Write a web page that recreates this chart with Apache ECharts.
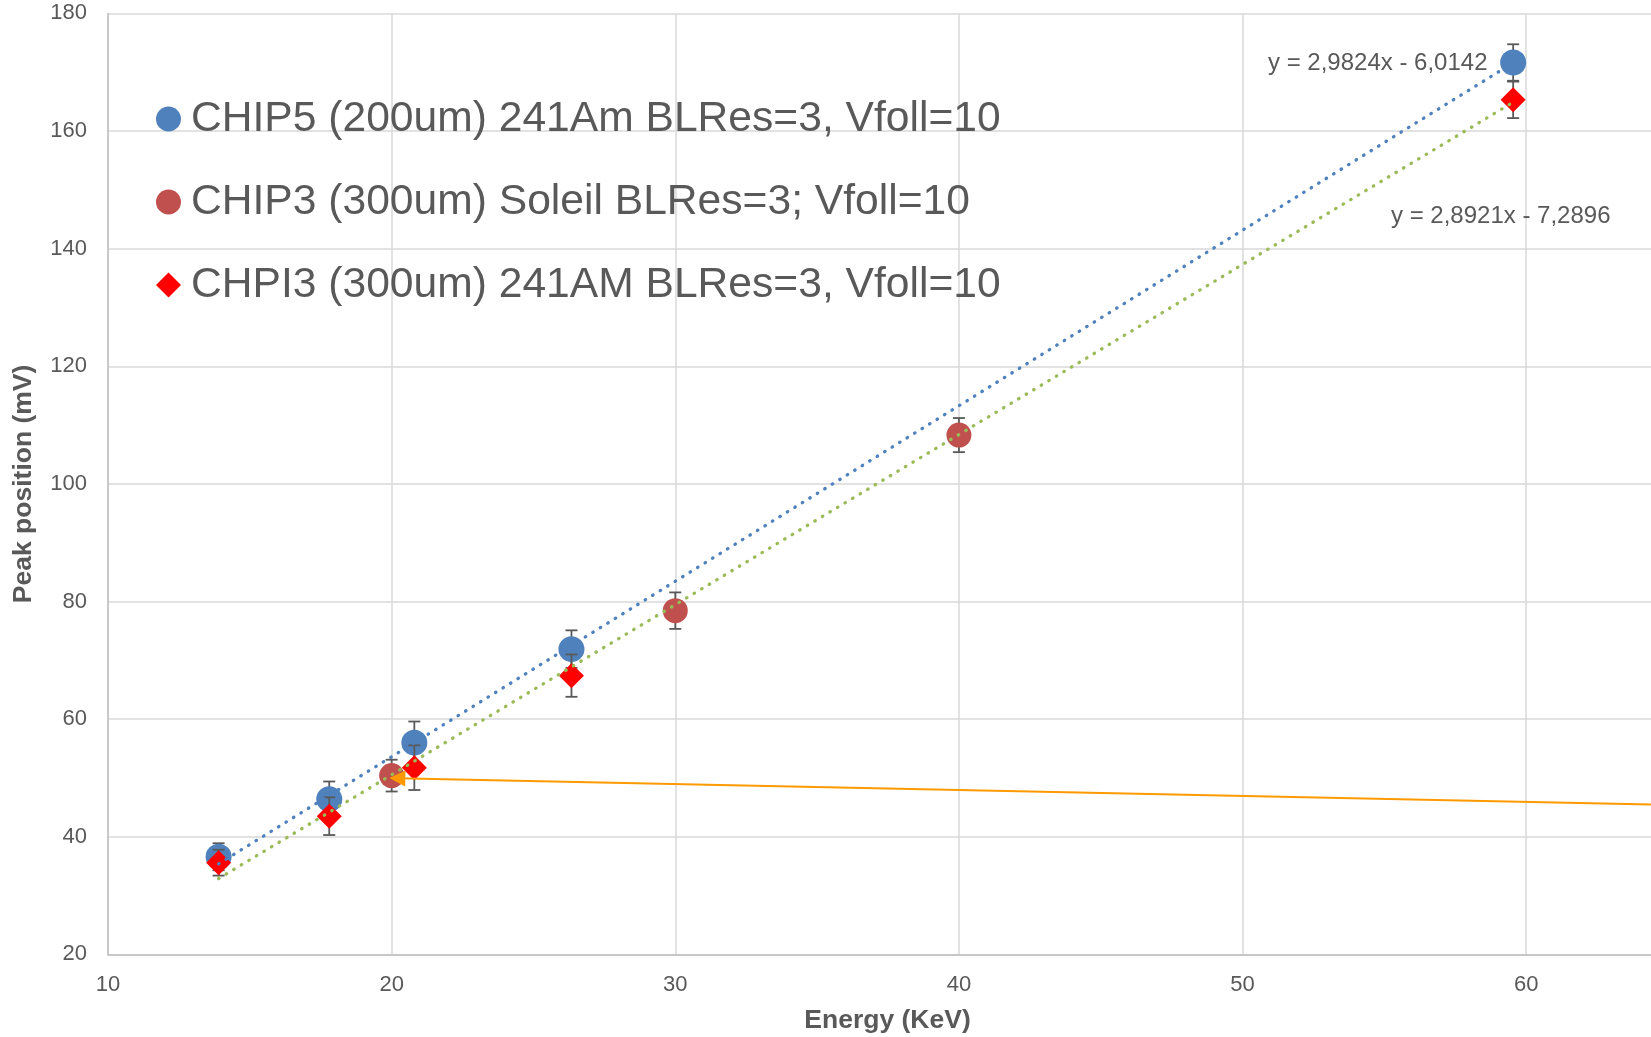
<!DOCTYPE html>
<html>
<head>
<meta charset="utf-8">
<script src="https://cdn.jsdelivr.net/npm/echarts@6/dist/echarts.min.js"></script>
<style>
html,body{margin:0;padding:0;background:#fff;}
#chart{width:1651px;height:1037px;}
</style>
</head>
<body>
<div id="chart"></div>
<script>
// ---- data ----
const seriesNames = [
  'CHIP5 (200um) 241Am BLRes=3, Vfoll=10',
  'CHIP3 (300um) Soleil BLRes=3; Vfoll=10',
  'CHPI3 (300um) 241AM BLRes=3, Vfoll=10'
];
const chip5Energy = [13.9, 17.8, 20.8, 26.34, 59.54];
const chip5Peak   = [36.6, 46.4, 56.0, 71.9, 171.65];
const chip5Err    = [2.3, 3.0, 3.6, 3.2, 3.1];

const chip3Energy = [20, 30, 40];
const chip3Peak   = [50.4, 78.45, 108.3];
const chip3Err    = [2.7, 3.1, 2.9];

const chpi3Energy = [13.9, 17.8, 20.8, 26.34, 59.54];
const chpi3Peak   = [35.6, 43.5, 51.75, 67.4, 165.3];
const chpi3Err    = [2.2, 3.2, 3.8, 3.6, 3.1];

// trendline end points (consistent with the printed fits)
const blueTrend  = [[13.9, 35.4], [59.54, 171.6]];
const greenTrend = [[13.9, 32.9], [59.54, 164.9]];
// orange arrow line
const orangeLine = [[20.2, 49.95], [64.4, 45.5]];

const eqBlue  = 'y = 2,9824x - 6,0142';
const eqGreen = 'y = 2,8921x - 7,2896';

const xTicks = [10, 20, 30, 40, 50, 60];
const yTicks = [20, 40, 60, 80, 100, 120, 140, 160, 180];

// ---- chart ----
const FONT = '"Liberation Sans", Arial, sans-serif';
const TXT = '#595959';
const zip = (a, b) => a.map((v, i) => [v, b[i]]);

function errBars(xs, ys, es, z) {
  return {
    type: 'custom',
    silent: true,
    z: z,
    data: xs.map((x, i) => [x, ys[i] - es[i], ys[i] + es[i]]),
    encode: { x: 0, y: [1, 2] },
    renderItem: function (params, api) {
      const x = api.value(0);
      const lo = api.coord([x, api.value(1)]);
      const hi = api.coord([x, api.value(2)]);
      const hw = 6;
      const st = { stroke: '#595959', lineWidth: 1.8 };
      return {
        type: 'group',
        children: [
          { type: 'line', shape: { x1: lo[0], y1: lo[1], x2: hi[0], y2: hi[1] }, style: st },
          { type: 'line', shape: { x1: lo[0] - hw, y1: lo[1], x2: lo[0] + hw, y2: lo[1] }, style: st },
          { type: 'line', shape: { x1: hi[0] - hw, y1: hi[1], x2: hi[0] + hw, y2: hi[1] }, style: st }
        ]
      };
    }
  };
}

const chart = echarts.init(document.getElementById('chart'), null, { renderer: 'canvas' });
chart.setOption({
  animation: false,
  backgroundColor: '#ffffff',
  textStyle: { fontFamily: FONT },
  grid: { left: 108, right: 0, top: 13.4, bottom: 82.6, containLabel: false, outerBoundsMode: 'none' },
  legend: {
    data: [
      { name: seriesNames[0], icon: 'circle' },
      { name: seriesNames[1], icon: 'circle' },
      { name: seriesNames[2], icon: 'diamond' }
    ],
    orient: 'vertical',
    left: 151,
    top: 90,
    itemWidth: 25,
    itemHeight: 25,
    itemGap: 35,
    textStyle: { fontSize: 42.6, color: TXT, fontFamily: FONT, lineHeight: 48, padding: [0, 0, 0, 5] },
    selectedMode: false
  },
  xAxis: {
    type: 'value',
    min: 10, max: 64.4, interval: 10,
    name: 'Energy (KeV)',
    nameLocation: 'middle',
    nameGap: 53,
    nameTextStyle: { fontSize: 26.5, fontWeight: 'bold', color: TXT, fontFamily: FONT, padding: [0, 0, 0, 16] },
    axisLine: { show: true, lineStyle: { color: '#BFBFBF', width: 1.5 } },
    axisTick: { show: false },
    axisLabel: {
      fontSize: 22, color: TXT, margin: 20, fontFamily: FONT,
      showMaxLabel: false,
      formatter: v => (xTicks.indexOf(v) >= 0 ? String(v) : '')
    },
    splitLine: { show: true, showMaxLine: false, lineStyle: { color: '#D9D9D9', width: 1.5 } }
  },
  yAxis: {
    type: 'value',
    min: 20, max: 180, interval: 20,
    name: 'Peak position (mV)',
    nameLocation: 'middle',
    nameGap: 71,
    nameTextStyle: { fontSize: 26.5, fontWeight: 'bold', color: TXT, fontFamily: FONT },
    axisLine: { show: true, lineStyle: { color: '#BFBFBF', width: 1.5 } },
    axisTick: { show: false },
    axisLabel: {
      fontSize: 22, color: TXT, margin: 21, fontFamily: FONT,
      formatter: v => (yTicks.indexOf(v) >= 0 ? String(v) : '')
    },
    splitLine: { show: true, lineStyle: { color: '#D9D9D9', width: 1.5 } }
  },
  series: [
    errBars(chip5Energy, chip5Peak, chip5Err, 2),
    {
      name: seriesNames[0], type: 'scatter', z: 3,
      data: zip(chip5Energy, chip5Peak),
      symbol: 'circle', symbolSize: 26,
      itemStyle: { color: '#4F81BD', opacity: 1 }
    },
    errBars(chip3Energy, chip3Peak, chip3Err, 4),
    {
      name: seriesNames[1], type: 'scatter', z: 5,
      data: zip(chip3Energy, chip3Peak),
      symbol: 'circle', symbolSize: 25,
      itemStyle: { color: '#C0504D', opacity: 1 }
    },
    errBars(chpi3Energy, chpi3Peak, chpi3Err, 6),
    {
      name: seriesNames[2], type: 'scatter', z: 7,
      data: zip(chpi3Energy, chpi3Peak),
      symbol: 'diamond', symbolSize: 25,
      itemStyle: { color: '#FF0000', opacity: 1 }
    },
    {
      name: 'trend blue', type: 'line', z: 8, silent: true,
      data: blueTrend, showSymbol: false, symbol: 'none',
      lineStyle: { color: '#4F81BD', width: 3.3, type: [0.5, 8.3], cap: 'round' }
    },
    {
      name: 'trend green', type: 'line', z: 8, silent: true,
      data: greenTrend, showSymbol: false, symbol: 'none',
      lineStyle: { color: '#9BBB59', width: 3.3, type: [0.5, 8.3], cap: 'round' }
    },
    {
      name: 'arrow', type: 'lines', coordinateSystem: 'cartesian2d', z: 9, silent: true,
      data: [{ coords: orangeLine }],
      symbol: ['triangle', 'none'], symbolSize: 16,
      lineStyle: { color: '#FF9900', width: 2, opacity: 1, curveness: 0 }
    }
  ],
  graphic: [
    { type: 'text', left: 1268, top: 51, z: 20,
      style: { text: eqBlue, fontSize: 24, fill: TXT, fontFamily: FONT } },
    { type: 'text', left: 1391, top: 204, z: 20,
      style: { text: eqGreen, fontSize: 24, fill: TXT, fontFamily: FONT } }
  ]
});
</script>
</body>
</html>
